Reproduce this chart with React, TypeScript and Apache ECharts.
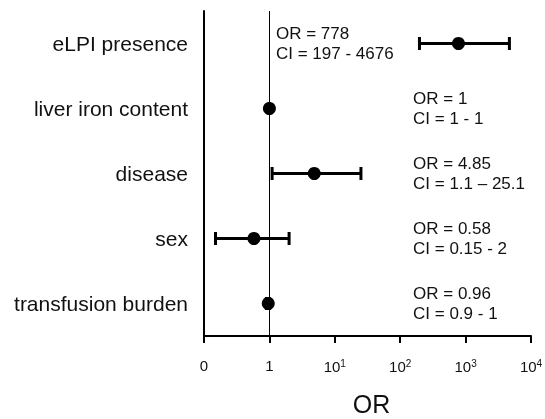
import React, { useEffect, useRef } from "react";
import * as echarts from "echarts";

const categories = ["eLPI presence", "liver iron content", "disease", "sex", "transfusion burden"];
const orValues = [778, 1, 4.85, 0.58, 0.96];
const ciLow = [197, 1, 1.1, 0.15, 0.9];
const ciHigh = [4676, 1, 25.1, 2, 1];
const orTexts = ["OR = 778", "OR = 1", "OR = 4.85", "OR = 0.58", "OR = 0.96"];
const ciTexts = ["CI = 197 - 4676", "CI = 1 - 1", "CI = 1.1 \u2013 25.1", "CI = 0.15 - 2", "CI = 0.9 - 1"];
const xTickLabels = ["0", "1", "10{sup|1}", "10{sup|2}", "10{sup|3}", "10{sup|4}"];

const FONT = "Arial, 'Liberation Sans', sans-serif";

export default function App() {
  const ref = useRef<HTMLDivElement>(null);
  useEffect(() => {
    if (!ref.current) return;
    const chart = echarts.init(ref.current, null, { renderer: "svg" });
    const annotAnchor = (i: number) => (i === 0 ? 1.26 : 157);
    chart.setOption({
      animation: false,
      grid: { left: 204, right: 14, top: 11, bottom: 83, containLabel: false, outerBoundsMode: "none" },
      xAxis: {
        type: "log",
        logBase: 10,
        min: 0.1,
        max: 10000,
        name: "OR",
        nameLocation: "middle",
        nameGap: 55,
        nameTextStyle: { fontSize: 25, color: "#111", fontFamily: FONT, padding: [0, 0, 0, 8] },
        axisLine: { show: true, lineStyle: { color: "#000", width: 2 } },
        axisTick: { show: true, length: 7, lineStyle: { color: "#000", width: 2 } },
        minorTick: { show: false },
        splitLine: { show: false },
        axisLabel: {
          margin: 22,
          color: "#111",
          fontSize: 15,
          fontFamily: FONT,
          formatter: (v: number) => {
            const k = Math.round(Math.log10(v)) + 1;
            return xTickLabels[k] ?? "";
          },
          rich: {
            sup: { fontSize: 10, padding: [0, 0, 7, 0], color: "#111", fontFamily: FONT },
          },
        },
      },
      yAxis: {
        type: "category",
        data: categories,
        inverse: true,
        axisLine: { show: true, lineStyle: { color: "#000", width: 2 } },
        axisTick: { show: false },
        splitLine: { show: false },
        axisLabel: { color: "#111", fontSize: 21, fontFamily: FONT, margin: 16 },
      },
      series: [
        {
          type: "custom",
          data: categories.map((_, i) => [ciLow[i], ciHigh[i], i]),
          encode: { x: [0, 1], y: 2 },
          z: 3,
          renderItem: (params: any, api: any) => {
            const p0 = api.coord([api.value(0), api.value(2)]);
            const p1 = api.coord([api.value(1), api.value(2)]);
            const h = 6.5;
            const st = { stroke: "#000", lineWidth: 3 };
            return {
              type: "group",
              children: [
                { type: "line", shape: { x1: p0[0], y1: p0[1], x2: p1[0], y2: p1[1] }, style: st },
                { type: "line", shape: { x1: p0[0], y1: p0[1] - h, x2: p0[0], y2: p0[1] + h }, style: st },
                { type: "line", shape: { x1: p1[0], y1: p1[1] - h, x2: p1[0], y2: p1[1] + h }, style: st },
              ],
            };
          },
        },
        {
          type: "scatter",
          data: categories.map((_, i) => [orValues[i], i]),
          symbol: "circle",
          symbolSize: 13,
          itemStyle: { color: "#000", opacity: 1 },
          z: 4,
          markLine: {
            silent: true,
            symbol: "none",
            label: { show: false },
            lineStyle: { color: "#000", width: 1, type: "solid", opacity: 1 },
            data: [{ xAxis: 1 }],
          },
        },
        {
          type: "custom",
          data: categories.map((_, i) => [i]),
          encode: { y: 0 },
          z: 5,
          renderItem: (params: any, api: any) => {
            const i = api.value(0);
            const p = api.coord([annotAnchor(i), i]);
            return {
              type: "text",
              x: p[0],
              y: p[1],
              style: {
                text: orTexts[i] + "\n" + ciTexts[i],
                fill: "#111",
                font: `17px ${FONT}`,
                lineHeight: 20,
                align: "left",
                verticalAlign: "middle",
              },
            };
          },
        },
      ],
    });
    return () => chart.dispose();
  }, []);
  return <div ref={ref} style={{ position: "fixed", left: 0, top: 0, width: 545, height: 419 }} />;
}
